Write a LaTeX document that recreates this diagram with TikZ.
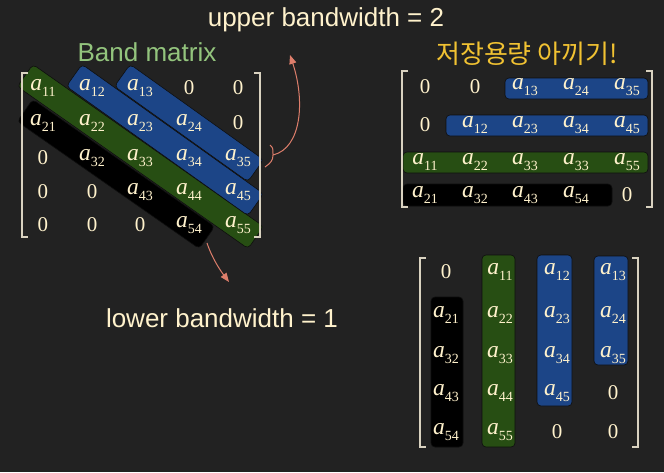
\documentclass[tikz,border=0pt]{standalone}
\usepackage{fontspec}
\setmainfont{Liberation Sans}
\newfontfamily\tnr{Liberation Serif}
\newfontfamily\kor{Noto Sans CJK KR}
\usetikzlibrary{arrows.meta}
\definecolor{bg}{HTML}{222222}
\definecolor{cream}{HTML}{FFF2CC}
\definecolor{titlegreen}{HTML}{93C47D}
\definecolor{warnyellow}{HTML}{F1C232}
\definecolor{salmon}{HTML}{DD7E6B}
\definecolor{bandgreen}{HTML}{274E13}
\definecolor{bandblue}{HTML}{1C4587}
\definecolor{brk}{HTML}{D9D2C0}
\newcommand\ea[1]{{\tnr\fontsize{23.5}{23.5}\selectfont\itshape a\kern0.2pt\raisebox{-5.5pt}{\upshape\fontsize{14}{14}\selectfont #1}}}
\newcommand\zr{{\tnr\fontsize{21}{21}\selectfont 0}}
\newcommand\cellval[1]{\ifnum#1=0 \zr\else\ea{#1}\fi}
\tikzset{
  entry/.style={text=cream, inner sep=0pt},
  bandnode/.style={rounded corners=4pt, inner sep=0pt, minimum height=27pt, draw=black!60!bg, line width=0.6pt},
  bandbox/.style={rounded corners=4pt, draw=black!60!bg, line width=0.6pt},
  bracket/.style={draw=brk, line width=1.3pt},
  arr/.style={draw=salmon, line width=1pt},
  lbl/.style={font=\fontsize{26}{26}\selectfont}
}
\begin{document}
\begin{tikzpicture}[x=1pt,y=-1pt]
\useasboundingbox (0,0) rectangle (664,472);
\fill[bg] (0,0) rectangle (664,472);

% ---------- left matrix coordinates ----------
\foreach \c/\x in {1/43,2/92,3/140,4/189,5/238}
  \foreach \r/\y in {1/88,2/123,3/158,4/192,5/225}
    \coordinate (L\r\c) at (\x,\y);

% bands (diagonal)
\path (L11) -- (L55) node[midway, sloped, bandnode, fill=bandgreen, minimum width=282pt] (bg1) {};
\path (L12) -- (L45) node[midway, sloped, bandnode, fill=bandblue, minimum width=223pt] (bb1) {};
\path (L13) -- (L35) node[midway, sloped, bandnode, fill=bandblue, minimum width=164pt] (bb2) {};
\path (L21) -- (L54) node[midway, sloped, bandnode, fill=black, minimum width=222pt] (bk1) {};

% entries
\foreach \r/\vals in {1/{11,12,13,0,0},2/{21,22,23,24,0},3/{0,32,33,34,35},4/{0,0,43,44,45},5/{0,0,0,54,55}}{
  \foreach \v [count=\c] in \vals
    \node[entry] (e\r\c) at (L\r\c) {\cellval{\v}};
}

% brackets
\draw[bracket] (28,73) -- (22,73) -- (22,237) -- (28,237);
\draw[bracket] (254,73) -- (260,73) -- (260,237) -- (254,237);

% ---------- top right matrix ----------
\path[bandbox, fill=bandblue] (505,78) rectangle (648,99);
\path[bandbox, fill=bandblue] (446,115) rectangle (648,136);
\path[bandbox, fill=bandgreen] (403,152) rectangle (648,173);
\path[bandbox, fill=black] (403,184) rectangle (612,206);
\foreach \c/\x in {1/425,2/475,3/525,4/576,5/627}
  \foreach \r/\y in {1/87,2/125,3/162,4/195}
    \coordinate (R\r\c) at (\x,\y);
\foreach \r/\vals in {1/{0,0,13,24,35},2/{0,12,23,34,45},3/{11,22,33,33,55},4/{21,32,43,54,0}}{
  \foreach \v [count=\c] in \vals
    \node[entry] (f\r\c) at (R\r\c) {\cellval{\v}};
}
\draw[bracket] (408,71) -- (402,71) -- (402,207) -- (408,207);
\draw[bracket] (646,71) -- (652,71) -- (652,207) -- (646,207);

% ---------- bottom right matrix ----------
\path[bandbox, fill=black] (431,297) rectangle (463,447);
\path[bandbox, fill=bandgreen] (482,255) rectangle (515,447);
\path[bandbox, fill=bandblue] (537,255) rectangle (572,406);
\path[bandbox, fill=bandblue] (594,256) rectangle (628,365);
\foreach \c/\x in {1/446,2/500,3/557,4/613}
  \foreach \r/\y in {1/272,2/315,3/355,4/393,5/432}
    \coordinate (B\r\c) at (\x,\y);
\foreach \r/\vals in {1/{0,11,12,13},2/{21,22,23,24},3/{32,33,34,35},4/{43,44,45,0},5/{54,55,0,0}}{
  \foreach \v [count=\c] in \vals
    \node[entry] (g\r\c) at (B\r\c) {\cellval{\v}};
}
\draw[bracket] (426,258) -- (420,258) -- (420,447) -- (426,447);
\draw[bracket] (632,258) -- (638,258) -- (638,447) -- (632,447);

% ---------- labels ----------
\node[lbl, text=cream] (upper) at (326,20) {upper bandwidth = 2};
\node[lbl, text=titlegreen] (title) at (147,52) {Band matrix};
\node[text=warnyellow, font=\kor\fontsize{26}{26}\selectfont] (save) at (527,54) {저장용량 아끼기!};
\node[lbl, text=cream] (lower) at (222,318) {lower bandwidth = 1};

% ---------- arrows ----------
\coordinate (brA) at (270,145);
\coordinate (brM) at (273,155);
\coordinate (brB) at (265,167);
\coordinate (upTip) at (290,55);
\coordinate (loStart) at (207,243);
\coordinate (loTip) at (229,282);
\draw[arr] (brA) .. controls (273,148) .. (brM);
\draw[arr] (brB) .. controls (271,163) and (273,160) .. (brM);
\draw[arr, -{Triangle[length=9pt,width=7pt]}] (brM) .. controls (302,148) and (305,100) .. (upTip);
\draw[arr, -{Triangle[length=9pt,width=7pt]}] (loStart) .. controls (212,258) and (220,270) .. (loTip);
\end{tikzpicture}
\end{document}
